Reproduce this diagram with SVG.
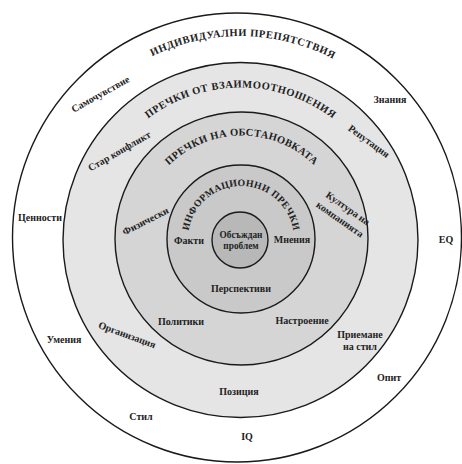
<svg xmlns="http://www.w3.org/2000/svg" width="462" height="464" viewBox="0 0 462 464">
<style>
.ring{stroke:#1a1a1a;stroke-width:1.4}
.t{font-family:"Liberation Serif","Times New Roman",serif;font-weight:bold;fill:#222;font-size:10px;text-anchor:middle}
.h{font-family:"Liberation Serif","Times New Roman",serif;font-weight:bold;fill:#222;font-size:10.5px;letter-spacing:0.5px}
</style>
<defs>
<path id="a1" d="M 38,238 A 202 202 0 0 1 442,238"/>
<path id="a2" d="M 88,240 A 152.5 152.5 0 0 1 393,240"/>
<path id="a3" d="M 138.5,238.5 A 103 103 0 0 1 344.5,238.5"/>
<path id="a4" d="M 188,239 A 53 53 0 0 1 294,239"/>
</defs>
<rect width="462" height="464" fill="#fff"/>
<g id="ring-individual">
<circle class="ring" cx="237" cy="237.5" r="224.5" fill="#fff"/>
<text class="h"><textPath href="#a1" startOffset="50.5%" text-anchor="middle">ИНДИВИДУАЛНИ ПРЕПЯТСТВИЯ</textPath></text>
</g>
<g id="ring-relations">
<circle class="ring" cx="240.5" cy="240" r="177.5" fill="#e5e5e5"/>
<text class="h"><textPath href="#a2" startOffset="50%" text-anchor="middle">ПРЕЧКИ ОТ ВЗАИМООТНОШЕНИЯ</textPath></text>
</g>
<g id="ring-environment">
<circle class="ring" cx="241.5" cy="238.5" r="126.5" fill="#d5d5d5"/>
<text class="h" style="letter-spacing:0.3px"><textPath href="#a3" startOffset="50%" text-anchor="middle">ПРЕЧКИ НА ОБСТАНОВКАТА</textPath></text>
</g>
<g id="ring-information">
<circle class="ring" cx="241" cy="239" r="74" fill="#c9c9c9"/>
<text class="h" style="font-size:9.8px;letter-spacing:0.3px"><textPath href="#a4" startOffset="50%" text-anchor="middle">ИНФОРМАЦИОННИ ПРЕЧКИ</textPath></text>
</g>
<g id="core">
<circle class="ring" cx="240" cy="240" r="28" fill="#b8b8b8"/>
<text class="t" style="font-size:9.3px" x="241" y="237.5">Обсъждан</text>
<text class="t" style="font-size:9.3px" x="241" y="249">проблем</text>
</g>
<g id="labels-individual">
<text class="t" transform="translate(102,97) rotate(-29)">Самочувствие</text>
<text class="t" x="390" y="103">Знания</text>
<text class="t" x="40" y="221">Ценности</text>
<text class="t" x="446" y="243">EQ</text>
<text class="t" x="64" y="343">Умения</text>
<text class="t" x="389" y="381">Опит</text>
<text class="t" x="141" y="420">Стил</text>
<text class="t" x="247" y="440">IQ</text>
</g>
<g id="labels-relations">
<text class="t" transform="translate(121,154) rotate(-30)">Стар конфликт</text>
<text class="t" transform="translate(367,144) rotate(36)">Репутация</text>
<text class="t" transform="translate(126,338) rotate(20)">Организация</text>
<text class="t" x="360" y="338">Приемане</text>
<text class="t" x="360" y="350">на стил</text>
<text class="t" x="239" y="395">Позиция</text>
</g>
<g id="labels-environment">
<text class="t" transform="translate(147,224) rotate(-27)">Физически</text>
<text class="t" transform="translate(346,211) rotate(35)">Култура на</text>
<text class="t" transform="translate(338,222) rotate(35)">компанията</text>
<text class="t" x="181" y="325">Политики</text>
<text class="t" x="302" y="324">Настроение</text>
</g>
<g id="labels-information">
<text class="t" x="189" y="244">Факти</text>
<text class="t" x="292" y="243">Мнения</text>
<text class="t" x="241" y="292">Перспективи</text>
</g>
</svg>
